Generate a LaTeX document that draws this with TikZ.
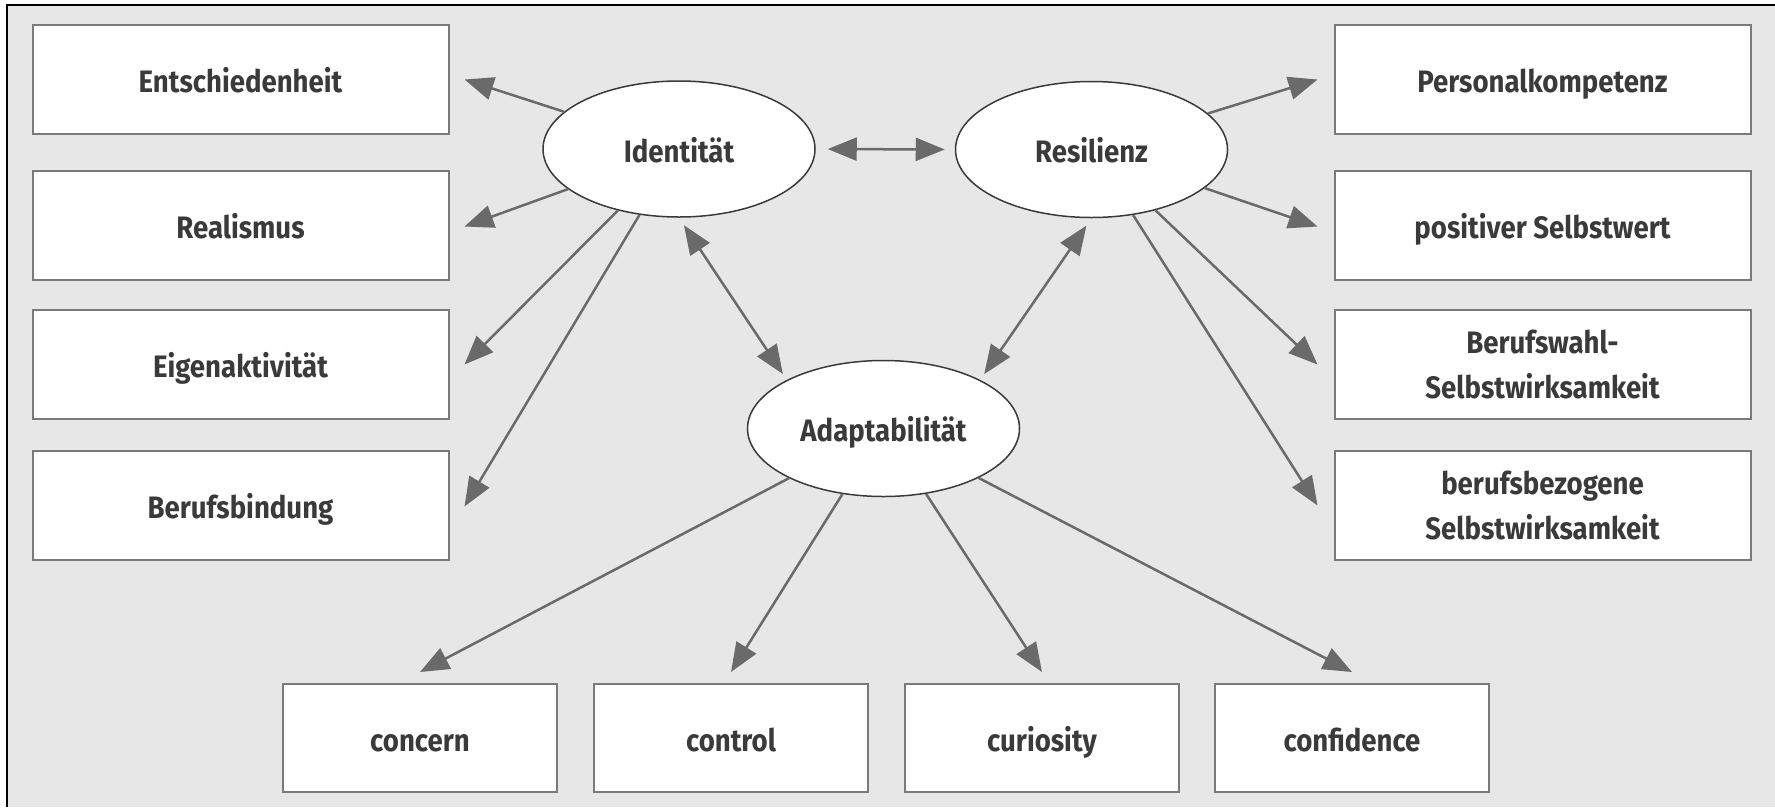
\documentclass[tikz,border=0pt]{standalone}
\usepackage{fontspec}
\setmainfont{Fira Sans}[FakeStretch=0.89]
\usetikzlibrary{arrows.meta,shapes.geometric}
\definecolor{bg}{HTML}{E6E7E6}
\definecolor{linegray}{HTML}{6A6A6A}
\definecolor{boxgray}{HTML}{7A7A7A}
\definecolor{txt}{HTML}{3A3A3A}
\definecolor{ellgray}{HTML}{3A3A3A}
\begin{document}
\begin{tikzpicture}[x=1pt,y=-1pt,
  box/.style={draw=boxgray,line width=2pt,fill=white,minimum width=416pt,minimum height=109pt,inner sep=0pt,align=center,text=txt,font=\fontsize{31}{45}\selectfont\bfseries},
  oneline/.style={text height=26pt,text depth=0pt},
  sbox/.style={box,oneline,minimum width=274pt,minimum height=108pt},
  ell/.style={ellipse,draw=ellgray,line width=1.5pt,fill=white,minimum width=272pt,minimum height=136pt,inner sep=0pt,text=txt,oneline,font=\fontsize{31}{45}\selectfont\bfseries},
  conn/.style={draw=linegray,line width=2.5pt,-{Triangle[length=29pt,width=23pt]}},
  dconn/.style={draw=linegray,line width=2.5pt,{Triangle[length=29pt,width=23pt]}-{Triangle[length=29pt,width=23pt]}}]
\useasboundingbox (0,0) rectangle (1775,807);
\fill[white] (0,0) rectangle (1775,807);
\fill[bg] (7,5) rectangle (1775,807);
\draw[black,line width=2.5pt] (7,807) -- (7,5) -- (1775,5);
% left boxes
\node[box,oneline] (E) at (240.5,79.5) {Entschiedenheit};
\node[box,oneline] (Re) at (240.5,225.5) {Realismus};
\node[box,oneline] (Ei) at (240.5,364.5) {Eigenaktivität};
\node[box,oneline] (Bb) at (240.5,505.5) {Berufsbindung};
% right boxes
\node[box,oneline] (P) at (1542.5,79.5) {Personalkompetenz};
\node[box,oneline] (S) at (1542.5,225.5) {positiver Selbstwert};
\node[box] (Bw) at (1542.5,364.5) {Berufswahl-\\Selbstwirksamkeit};
\node[box] (Bz) at (1542.5,505.5) {berufsbezogene\\Selbstwirksamkeit};
% bottom boxes
\node[sbox] (c1) at (420,738) {concern};
\node[sbox] (c2) at (731,738) {control};
\node[sbox] (c3) at (1042,738) {curiosity};
\node[sbox] (c4) at (1352,738) {confidence};
% ellipses
\node[ell] (I) at (679,149) {Identität};
\node[ell] (R) at (1091.5,149.5) {Resilienz};
\node[ell] (A) at (883.5,428.5) {Adaptabilität};
% connectors
\draw[conn] (I) -- ([xshift=15pt]E.east);
\draw[conn] (I) -- ([xshift=15pt,yshift=-1pt]Re.east);
\draw[conn] (I) -- ([xshift=15pt]Ei.east);
\draw[conn] (I) -- ([xshift=15pt,yshift=-1pt]Bb.east);
\draw[conn] (R) -- ([xshift=-16pt]P.west);
\draw[conn] (R) -- ([xshift=-16pt,yshift=-1pt]S.west);
\draw[conn] (R) -- ([xshift=-16pt]Bw.west);
\draw[conn] (R) -- ([xshift=-16pt]Bz.west);
\draw[conn] (A) -- ([yshift=11pt]c1.north);
\draw[conn] (A) -- ([yshift=11pt]c2.north);
\draw[conn] (A) -- ([yshift=11pt]c3.north);
\draw[conn] (A) -- ([yshift=11pt]c4.north);
\draw[dconn,shorten <=12pt,shorten >=10pt] (I.east) -- (R.west);
\draw[dconn,shorten <=9pt,shorten >=7pt] (I.south) -- (A.north west);
\draw[dconn,shorten <=9pt,shorten >=7pt] (R.south) -- (A.north east);
\end{tikzpicture}
\end{document}
